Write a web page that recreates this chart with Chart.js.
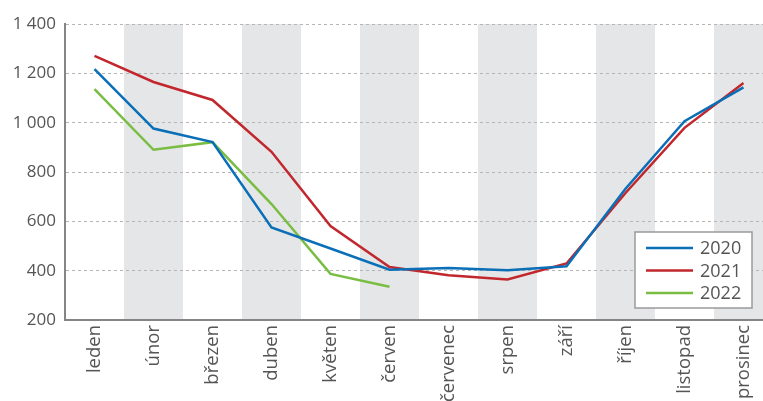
<!DOCTYPE html>
<html>
<head>
<meta charset="utf-8">
<script src="https://cdn.jsdelivr.net/npm/chart.js@4"></script>
<style>
  html, body { margin: 0; padding: 0; background: #fff; overflow: hidden; }
  .wrap { width: 773px; height: 401px; }
</style>
</head>
<body>
<div class="wrap"><canvas id="chartMesice"></canvas></div>
<script>
// kategorie (mesice)
const mesice = ['leden', 'únor', 'březen', 'duben', 'květen', 'červen',
    'červenec', 'srpen', 'září', 'říjen', 'listopad', 'prosinec'];

// hodnoty
const rok2020 = [1217, 976, 921, 575, 490, 404, 411, 402, 418, 732, 1006, 1143];
const rok2021 = [1271, 1165, 1092, 882, 581, 415, 381, 364, 429, 715, 979, 1161];
const rok2022 = [1136, 890, 921, 670, 387, 335, null, null, null, null, null, null];

const osaY = [200, 400, 600, 800, 1000, 1200, 1400];

const barvy = { '2020': '#0a6fb7', '2021': '#c1272d', '2022': '#79bd42' };
const pismo = '"Open Sans", sans-serif';

// sede pruhy za kazdym druhym mesicem
const pruhy = {
    id: 'pruhy',
    beforeDraw(chart) {
        const { ctx, chartArea, scales } = chart;
        const sirka = scales.x.getPixelForValue(1) - scales.x.getPixelForValue(0);
        ctx.save();
        ctx.fillStyle = '#e5e6e8';
        mesice.forEach((m, i) => {
            if (i % 2 === 1) {
                const x = scales.x.getPixelForValue(i) - sirka / 2;
                ctx.fillRect(x, chartArea.top, sirka, chartArea.bottom - chartArea.top);
            }
        });
        ctx.restore();
    }
};

// legenda uvnitr grafu s ramečkem
const legendaUvnitr = {
    id: 'legendaUvnitr',
    afterDatasetsDraw(chart) {
        const { ctx, chartArea } = chart;
        const w = 117, h = 76;
        const x = chartArea.right - 21 - w;
        const y = chartArea.bottom - 12 - h;
        ctx.save();
        ctx.fillStyle = '#fff';
        ctx.fillRect(x, y, w, h);
        ctx.strokeStyle = '#9a9a9a';
        ctx.lineWidth = 1.5;
        ctx.strokeRect(x, y, w, h);
        ctx.font = '18px ' + pismo;
        ctx.textBaseline = 'middle';
        chart.data.datasets.forEach((ds, i) => {
            const cy = y + 16 + i * 22.5;
            ctx.strokeStyle = ds.borderColor;
            ctx.lineWidth = 2.5;
            ctx.beginPath();
            ctx.moveTo(x + 11, cy);
            ctx.lineTo(x + 58, cy);
            ctx.stroke();
            ctx.fillStyle = '#555';
            ctx.fillText(ds.label, x + 65, cy + 1);
        });
        ctx.restore();
    }
};

new Chart(document.getElementById('chartMesice'), {
    type: 'line',
    data: {
        labels: mesice,
        datasets: [
            { label: '2020', data: rok2020, borderColor: barvy['2020'] },
            { label: '2021', data: rok2021, borderColor: barvy['2021'] },
            { label: '2022', data: rok2022, borderColor: barvy['2022'] }
        ]
    },
    options: {
        responsive: true,
        maintainAspectRatio: false,
        animation: false,
        layout: { padding: { top: 24, right: 0, bottom: 0, left: 0 } },
        elements: {
            line: { borderWidth: 2.5, tension: 0, fill: false },
            point: { radius: 0 }
        },
        scales: {
            x: {
                offset: true,
                grid: { display: false, drawTicks: false, offset: true },
                border: { display: true, color: '#858585', width: 2 },
                ticks: {
                    color: '#555',
                    font: { family: pismo, size: 18.5 },
                    minRotation: 90,
                    maxRotation: 90,
                    padding: 5,
                    autoSkip: false
                },
                afterFit: s => { s.height = 81; }
            },
            y: {
                min: 200,
                max: 1400,
                afterBuildTicks: s => { s.ticks = osaY.map(v => ({ value: v })); },
                grid: { color: '#b5b5b5', lineWidth: 1, drawTicks: false },
                border: { display: true, color: '#858585', width: 2, dash: [3, 3] },
                ticks: {
                    color: '#555',
                    font: { family: pismo, size: 17 },
                    padding: 9,
                    callback: v => String(v).replace(/\B(?=(\d{3})+(?!\d))/g, ' ')
                },
                afterFit: s => { s.width = 65; }
            }
        },
        plugins: {
            legend: { display: false },
            tooltip: { enabled: false }
        }
    },
    plugins: [pruhy, legendaUvnitr]
});
</script>
</body>
</html>
